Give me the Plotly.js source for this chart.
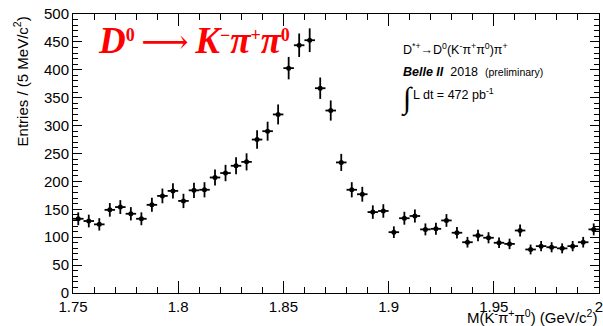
<!DOCTYPE html>
<html>
<head>
<meta charset="utf-8">
<script src="https://cdn.plot.ly/plotly-3.0.1.min.js"></script>
<style>html,body{margin:0;padding:0;background:#fff;}#plot{width:603px;height:326px;}</style>
</head>
<body>
<div id="plot"></div>
<script>
// Bin centers (GeV/c^2), 5 MeV bins from 1.75 to 2.00
const binLow = 1.75;
const binWidth = 0.005;
const nBins = 50;
const massCenters = Array.from({length: nBins}, (_, i) => +(binLow + binWidth * (i + 0.5)).toFixed(4));

// Entries per bin
const entries = [133, 129, 123, 149, 154, 142, 133, 158, 174, 183,
                 165, 184, 185, 207, 215, 228, 235, 275, 290, 320,
                 403, 444, 453, 367, 327, 234, 185, 177, 145, 147,
                 109, 134, 138, 114, 115, 130, 108, 91, 103, 99,
                 90, 88, 112, 78, 84, 82, 80, 84, 91, 114];

const xTickVals = [1.75, 1.8, 1.85, 1.9, 1.95, 2.0];
const xTickText = ['1.75', '1.8', '1.85', '1.9', '1.95', '2'];
const yTickVals = [0, 50, 100, 150, 200, 250, 300, 350, 400, 450, 500];

const trace = {
  x: massCenters,
  y: entries,
  type: 'scatter',
  mode: 'markers',
  marker: {color: 'black', size: 5},
  error_y: {type: 'sqrt', color: 'black', thickness: 1.8, width: 0},
  error_x: {type: 'constant', value: binWidth / 2, color: 'black', thickness: 1.8, width: 0},
  hoverinfo: 'none',
  showlegend: false
};

const sans = 'Liberation Sans, Arial, Helvetica, sans-serif';
const serif = 'Liberation Serif, Times New Roman, serif';

const big = s => '<span style="font-size:37px"><b><i>' + s + '</i></b></span>';
const sup = s => '<sup><span style="font-size:18px"><b>' + s + '</b></span></sup>';

const layout = {
  width: 603, height: 326,
  margin: {l: 73, r: 4, t: 14, b: 33, pad: 0},
  paper_bgcolor: 'white', plot_bgcolor: 'white',
  font: {family: sans, color: 'black', size: 15},
  xaxis: {
    range: [1.75, 2.00001],
    tickmode: 'array', tickvals: xTickVals, ticktext: xTickText,
    ticklabeloverflow: 'allow',
    ticks: 'inside', ticklen: 12, tickwidth: 1, tickcolor: 'black',
    minor: {dtick: 0.01, tick0: 1.75, ticks: 'inside', ticklen: 6, tickwidth: 1, tickcolor: 'black', showgrid: false},
    showline: true, linecolor: 'black', linewidth: 1, mirror: 'allticks',
    showgrid: false, zeroline: false,
    tickfont: {family: sans, size: 15, color: 'black'},
    title: {text: ''}
  },
  yaxis: {
    range: [0, 500],
    tickmode: 'array', tickvals: yTickVals,
    ticks: 'inside', ticklen: 9, tickwidth: 1, tickcolor: 'black',
    minor: {dtick: 10, tick0: 0, ticks: 'inside', ticklen: 5, tickwidth: 1, tickcolor: 'black', showgrid: false},
    showline: true, linecolor: 'black', linewidth: 1, mirror: 'allticks',
    showgrid: false, zeroline: false,
    tickfont: {family: sans, size: 15, color: 'black'},
    title: {text: ''}
  },
  annotations: [
    {xref: 'paper', yref: 'paper', x: 0.044, y: 0.905, xanchor: 'left', yanchor: 'middle', showarrow: false,
     text: big('D') + sup('0') +
           '<span style="font-family:DejaVu Serif;font-size:33px">\u2009⟶\u2009</span>' +
           big('K') + sup('−') + big('π') + sup('+') + big('π') + sup('0'),
     font: {family: serif, size: 28, color: '#ff0000'}},
    {xref: 'paper', yref: 'paper', x: 0.624, y: 0.876, xanchor: 'left', yanchor: 'middle', showarrow: false,
     text: 'D<sup>*+</sup>→D<sup>0</sup>(K<sup>-</sup>π<sup>+</sup>π<sup>0</sup>)π<sup>+</sup>',
     font: {family: sans, size: 12.5, color: 'black'}},
    {xref: 'paper', yref: 'paper', x: 0.624, y: 0.792, xanchor: 'left', yanchor: 'middle', showarrow: false,
     text: '<b><i>Belle II</i></b>  2018  <span style="font-size:10.5px">(preliminary)</span>',
     font: {family: sans, size: 12.5, color: 'black'}},
    {xref: 'paper', yref: 'paper', x: 0.620, y: 0.697, xanchor: 'left', yanchor: 'middle', showarrow: false,
     text: '∫',
     font: {family: serif, size: 30, color: 'black'}},
    {xref: 'paper', yref: 'paper', x: 0.643, y: 0.712, xanchor: 'left', yanchor: 'middle', showarrow: false,
     text: 'L dt = 472 pb<sup>-1</sup>',
     font: {family: sans, size: 12.5, color: 'black'}},
    {xref: 'paper', yref: 'paper', x: 1.0, y: -0.083, xanchor: 'right', yanchor: 'middle', showarrow: false,
     text: 'M(K<sup>-</sup>π<sup>+</sup>π<sup>0</sup>) (GeV/c<sup>2</sup>)',
     font: {family: sans, size: 15, color: 'black'}},
    {xref: 'paper', yref: 'paper', x: -0.10, y: 1.0, xanchor: 'center', yanchor: 'top', showarrow: false,
     text: 'Entries / (5 MeV/c<sup>2</sup>)', textangle: -90,
     font: {family: sans, size: 15, color: 'black'}}
  ]
};

Plotly.newPlot('plot', [trace], layout, {staticPlot: true, displayModeBar: false});
</script>
</body>
</html>
